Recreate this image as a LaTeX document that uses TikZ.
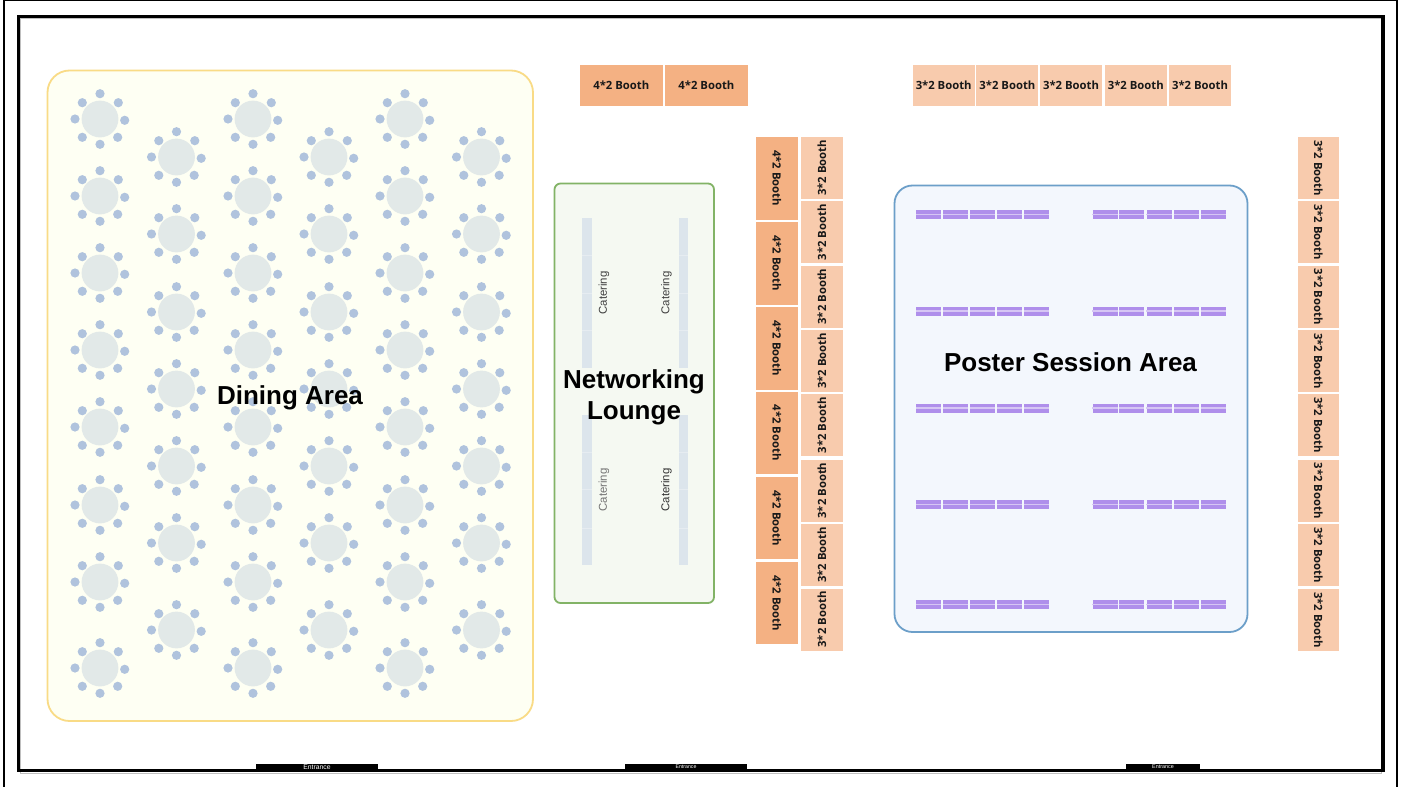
\documentclass[tikz,border=0pt]{standalone}
\usepackage{fontspec}
\setmainfont{Liberation Sans}
\newfontfamily\boothfont{Open Sans}
\definecolor{booA}{HTML}{F4B183}
\definecolor{booB}{HTML}{F8CBAD}
\definecolor{tableC}{HTML}{E2E9E8}
\definecolor{seatC}{HTML}{B0C3DD}
\definecolor{diningF}{HTML}{FEFFF3}
\definecolor{diningD}{HTML}{F9DB86}
\definecolor{netF}{HTML}{F5F9F2}
\definecolor{netD}{HTML}{82B366}
\definecolor{postF}{HTML}{F3F7FD}
\definecolor{postD}{HTML}{6C9FC9}
\definecolor{cater}{HTML}{DCE5EC}
\definecolor{purp}{HTML}{AF8FEB}
\definecolor{purpL}{HTML}{D6C6F4}
\tikzset{
  x=1pt,y=-1pt,
  area/.style={line width=1.8pt,rounded corners=#1},
  areatitle/.style={font=\fontsize{26}{31}\selectfont\bfseries,align=center,text=black,inner sep=0},
  boothbase/.style={inner sep=0,font=\boothfont\fontsize{11.3}{13}\selectfont\bfseries,text=black!90},
  boothFourH/.style={boothbase,fill=booA,minimum width=82.6pt,minimum height=41.2pt},
  boothThreeH/.style={boothbase,fill=booB,minimum width=62pt,minimum height=41pt},
  boothFourV/.style={boothbase,fill=booA,minimum width=82.6pt,minimum height=41.7pt},
  boothThreeV/.style={boothbase,fill=booB,minimum width=62pt,minimum height=41.5pt},
  tablenode/.style={circle,fill=tableC,inner sep=0,minimum size=36.8pt},
  seatdot/.style={fill=seatC},
  caterstrip/.style={fill=cater,inner sep=0,minimum width=9.5pt,minimum height=150pt},
  caterlabel/.style={rotate=90,inner sep=0,font=\fontsize{11.4}{13}\selectfont},
  posterbar/.style={fill=purp,inner sep=0,minimum width=25pt,minimum height=9pt},
  door/.style={fill=black,inner sep=0,minimum height=7pt,text=white},
}
\newcommand{\roundtable}[3]{%
  \node[tablenode] (#1) at (#2,#3) {};
  \foreach \dx/\dy in {0/-25.3,-17.7/-16.3,18.3/-16.3,-25/0,24.7/1.3,-17.7/18.3,17.7/18.3,0/25.3}
    \fill[seatdot,shift={(#2,#3)}] (\dx,\dy) circle[radius=4.6];
}
\begin{document}
\begin{tikzpicture}
\path[use as bounding box,fill=white] (0,0) rectangle (1403,787);
% outer frames
\draw[black,line width=1.6pt] (4.2,787) -- (4.2,0.5) -- (1397,0.5) -- (1397,787);
\draw[black!25,line width=1pt] (20.5,18.5) -- (1381,18.5) -- (1381,773) -- (20.5,773) -- cycle;
\draw[black,line width=3.6pt] (18.6,16.5) rectangle (1383.2,770.5);
% dining
\path[area=22pt,draw=diningD,fill=diningF] (47.5,70.5) rectangle (533,721);
\foreach \c/\xx in {a/100,c/253,e/405}
  \foreach \r/\yy in {1/119,2/196,3/273,4/350,5/427,6/505,7/582,8/668}
    {\roundtable{t\c\r}{\xx}{\yy}}
\foreach \c/\xx in {b/176.5,d/329,f/481.5}
  \foreach \r/\yy in {1/157,2/234,3/312,4/389,5/466,6/543,7/630}
    {\roundtable{t\c\r}{\xx}{\yy}}
\node[areatitle] (diningtitle) at (290,398) {Dining Area};
% networking
\path[area=6pt,draw=netD,fill=netF] (554.5,183.5) rectangle (714,603);
\node[caterstrip] (s1) at (587,293) {};
\node[caterstrip] (s2) at (683.5,293) {};
\node[caterstrip] (s3) at (587,490) {};
\node[caterstrip] (s4) at (683.5,490) {};
\foreach \xa/\xb in {582.2/591.8,678.7/688.3}
  \foreach \yy in {255,293,330,452,489,528}
    \draw[white,opacity=.3,line width=.4pt] (\xa,\yy) -- (\xb,\yy);
\node[caterlabel,text=black!75] (c1) at (604,293) {Catering};
\node[caterlabel,text=black!75] (c2) at (666.5,293) {Catering};
\node[caterlabel,text=black!55] (c3) at (604,490) {Catering};
\node[caterlabel,text=black!80] (c4) at (666.5,490) {Catering};
\node[areatitle] (nettitle) at (634,397) {Networking\\Lounge};
% top booths
\node[boothFourH] (ta) at (621.3,85.2) {4*2 Booth};
\node[boothFourH] (tb) at (706.4,85.2) {4*2 Booth};
\foreach \i/\xx in {1/943.7,2/1007.4,3/1071,4/1135.8,5/1200}
  \node[boothThreeH] (tc\i) at (\xx,85.2) {3*2 Booth};
% vertical booths
\foreach \i/\yy in {1/178.3,2/263.3,3/348.3,4/432.9,5/518,6/603}
  \node[boothFourV,rotate=-90] (va\i) at (776.8,\yy) {4*2 Booth};
\foreach \i/\yy in {1/168,2/232.3,3/296.6,4/361,5/425.3,6/490.6,7/555,8/619.5}
  \node[boothThreeV,rotate=90] (vb\i) at (821.9,\yy) {3*2 Booth};
\foreach \i/\yy in {1/168,2/232.3,3/296.6,4/361,5/425.3,6/490.6,7/555,8/620}
  \node[boothThreeV,rotate=-90] (vc\i) at (1318.3,\yy) {3*2 Booth};
% poster
\path[area=18pt,draw=postD,fill=postF] (894.5,185.5) rectangle (1247.5,632);
\foreach \yy in {214.4,311,408,504.4,604.4}
  \foreach \xx in {928.5,955.5,982.5,1009.6,1036.7,1105,1131.7,1159,1186.2,1213.4}
    {\node[posterbar] (bar) at (\xx,\yy) {};
     \fill[purpL] (bar.west) ++(0,-0.6) rectangle ([yshift=-0.6pt]bar.east);
    }
\node[areatitle] (posttitle) at (1070.5,362) {Poster Session Area};
% entrances
\node[door,minimum width=122pt,font=\fontsize{6.8}{8}\selectfont] (e1) at (317,767) {Entrance};
\node[door,minimum width=122pt,font=\fontsize{5.2}{6}\selectfont] (e2) at (686,767) {Entrance};
\node[door,minimum width=74pt,font=\fontsize{5.4}{6}\selectfont] (e3) at (1163,767) {Entrance};
\end{tikzpicture}
\end{document}
